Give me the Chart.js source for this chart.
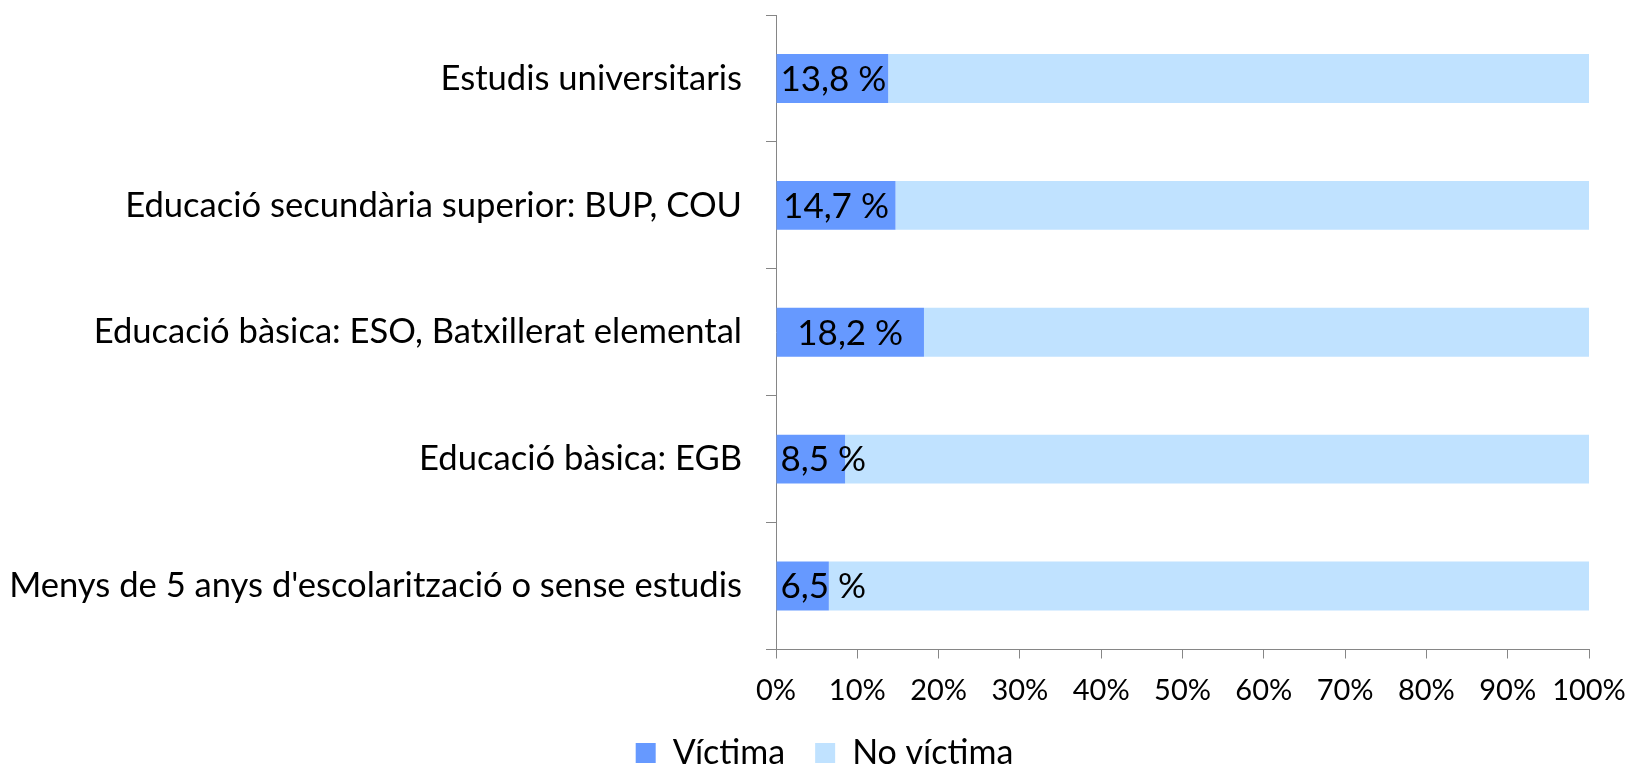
<!DOCTYPE html>
<html>
<head>
<meta charset="utf-8">
<script src="https://cdn.jsdelivr.net/npm/chart.js@4/dist/chart.umd.min.js"></script>
<style>
  body { margin: 0; background: #fff; }
  #wrap { width: 1627px; height: 767px; }
</style>
</head>
<body>
<div id="wrap"><canvas id="grafic"></canvas></div>
<script>
// Víctimes segons nivell d'estudis
let categories = ['Estudis universitaris', 'Educació secundària superior: BUP, COU', 'Educació bàsica: ESO, Batxillerat elemental', 'Educació bàsica: EGB', "Menys de 5 anys d'escolarització o sense estudis"];
let victima = [13.8, 14.7, 18.2, 8.5, 6.5];
let noVictima = [86.2, 85.3, 81.8, 91.5, 93.5];
let etiquetes = ['13,8 %', '14,7 %', '18,2 %', '8,5 %', '6,5 %'];

let font = 'Lato, "Open Sans", sans-serif';
let gris = '#868686';

// etiquetes de dades dins la barra de víctimes
let pluginEtiquetes = {
  id: 'etiquetes',
  afterDatasetsDraw(chart) {
    let ctx = chart.ctx;
    let meta = chart.getDatasetMeta(0);
    ctx.save();
    ctx.font = '35px ' + font;
    ctx.fillStyle = '#000';
    ctx.textBaseline = 'middle';
    meta.data.forEach((bar, i) => {
      let txt = etiquetes[i];
      let w = ctx.measureText(txt).width;
      let amplada = bar.x - bar.base;
      let x = (bar.x + bar.base) / 2 - w / 2;
      if (w + 8 > amplada) x = bar.base + 4;
      ctx.fillText(txt, x, bar.y + 1);
    });
    ctx.restore();
  }
};

let grafic = new Chart(document.getElementById('grafic'), {
  type: 'bar',
  data: {
    labels: categories,
    datasets: [
      { label: 'Víctima', data: victima, backgroundColor: '#6699FF', barPercentage: 0.385, categoryPercentage: 1 },
      { label: 'No víctima', data: noVictima, backgroundColor: '#C0E2FF', barPercentage: 0.385, categoryPercentage: 1 }
    ]
  },
  options: {
    indexAxis: 'y',
    responsive: true,
    maintainAspectRatio: false,
    animation: false,
    layout: { padding: { top: 15, right: -14, bottom: -13, left: 8 } },
    scales: {
      x: {
        stacked: true,
        min: 0,
        max: 100,
        ticks: {
          stepSize: 10,
          color: '#000',
          padding: 15,
          font: { family: font, size: 29 },
          callback: v => v + '%'
        },
        grid: { drawOnChartArea: false, color: gris, tickLength: 9 },
        border: { color: gris },
        afterFit: s => { s.height = 56.5; s.paddingRight = 38; }
      },
      y: {
        stacked: true,
        ticks: {
          color: '#000',
          padding: 24,
          font: { family: font, size: 34.6 }
        },
        grid: { drawOnChartArea: false, offset: true, color: gris, tickLength: 10 },
        border: { color: gris },
        afterFit: s => { s.width = 768; s.paddingTop = 0; s.paddingBottom = 0; }
      }
    },
    plugins: {
      legend: {
        position: 'bottom',
        labels: {
          color: '#000',
          boxWidth: 20,
          boxHeight: 20,
          padding: 30,
          font: { family: font, size: 34 }
        }
      },
      tooltip: { enabled: false }
    }
  },
  plugins: [pluginEtiquetes]
});
</script>
</body>
</html>
